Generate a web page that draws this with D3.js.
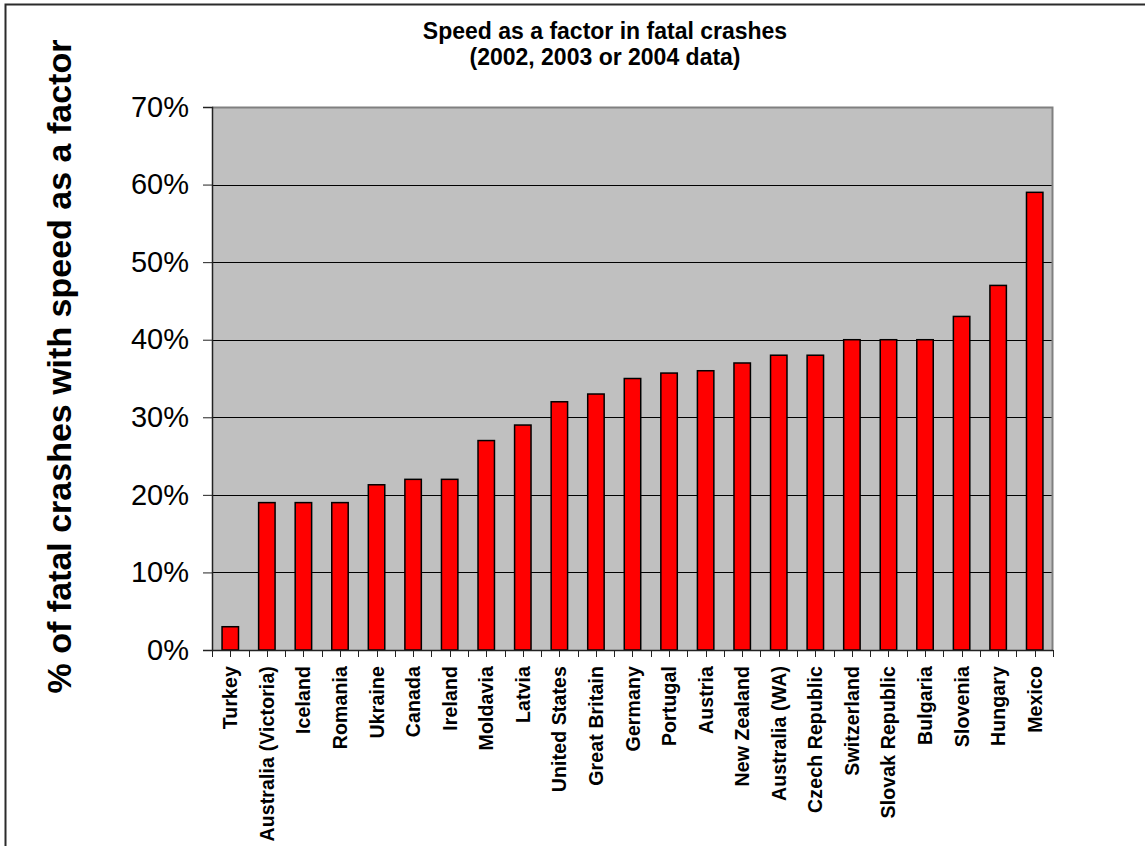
<!DOCTYPE html>
<html>
<head>
<meta charset="utf-8">
<script src="https://cdn.jsdelivr.net/npm/d3@7"></script>
<style>
  html, body { margin: 0; padding: 0; background: #ffffff; }
  svg { display: block; font-family: Arial, "Liberation Sans", sans-serif; }
</style>
</head>
<body>
<svg id="chart" width="1145" height="846"></svg>
<script>
// Countries, in plotted order
const countries = [
  "Turkey", "Australia (Victoria)", "Iceland", "Romania", "Ukraine", "Canada",
  "Ireland", "Moldavia", "Latvia", "United States", "Great Britain", "Germany",
  "Portugal", "Austria", "New Zealand", "Australia (WA)", "Czech Republic",
  "Switzerland", "Slovak Republic", "Bulgaria", "Slovenia", "Hungary", "Mexico"
];

// Share of fatal crashes with speed as a factor (fraction)
const speedShare = [
  0.03, 0.19, 0.19, 0.19, 0.213, 0.22,
  0.22, 0.27, 0.29, 0.32, 0.33, 0.35,
  0.357, 0.36, 0.37, 0.38, 0.38,
  0.40, 0.40, 0.40, 0.43, 0.47, 0.59
];

// Value-axis ticks
const yTicks = [0, 0.1, 0.2, 0.3, 0.4, 0.5, 0.6, 0.7];

const titleLines = ["Speed as a factor in fatal crashes", "(2002, 2003 or 2004 data)"];
const yTitle = "% of fatal crashes with speed as a factor";

const svg = d3.select("#chart");
const plot = { left: 212, right: 1053, top: 107, bottom: 650 };

const x = d3.scaleBand()
  .domain(countries)
  .range([plot.left, plot.right])
  .paddingInner(0.55)
  .paddingOuter(0.275);

const y = d3.scaleLinear()
  .domain([0, 0.7])
  .range([plot.bottom, plot.top]);

// Outer chart frame
svg.append("rect")
  .attr("x", 5.5).attr("y", 4.5)
  .attr("width", 1150).attr("height", 860)
  .attr("fill", "#ffffff")
  .attr("stroke", "#2b2b2b")
  .attr("stroke-width", 2);

// Plot area background
svg.append("rect")
  .attr("x", plot.left).attr("y", plot.top)
  .attr("width", plot.right - plot.left)
  .attr("height", plot.bottom - plot.top)
  .attr("fill", "#c0c0c0");

// Horizontal gridlines
svg.append("g")
  .selectAll("line")
  .data(yTicks.filter(d => d > 0 && d < 0.7))
  .join("line")
  .attr("x1", plot.left).attr("x2", plot.right)
  .attr("y1", d => Math.round(y(d)) + 0.5)
  .attr("y2", d => Math.round(y(d)) + 0.5)
  .attr("stroke", "#000")
  .attr("stroke-width", 1);

// Plot area border (top and right)
svg.append("path")
  .attr("d", `M${plot.left},${plot.top + 0.5}H${plot.right - 0.5}V${plot.bottom}`)
  .attr("fill", "none")
  .attr("stroke", "#808080")
  .attr("stroke-width", 2);

// Bars
svg.append("g")
  .selectAll("rect")
  .data(countries.map((c, i) => ({ c, v: speedShare[i] })))
  .join("rect")
  .attr("x", d => x(d.c))
  .attr("y", d => y(d.v))
  .attr("width", x.bandwidth())
  .attr("height", d => y(0) - y(d.v))
  .attr("fill", "#ff0000")
  .attr("stroke", "#000")
  .attr("stroke-width", 1.5);

// Value axis
const yAxis = d3.axisLeft(y)
  .tickValues(yTicks)
  .tickFormat(d3.format(".0%"))
  .tickSize(9)
  .tickPadding(14);

const yg = svg.append("g")
  .attr("transform", `translate(${plot.left},0)`)
  .call(yAxis);
yg.select(".domain").attr("stroke", "#222").attr("stroke-width", 1.5);
yg.selectAll(".tick line").attr("stroke", "#222");
yg.selectAll(".tick text")
  .attr("font-size", 29)
  .attr("font-family", "Arial, 'Liberation Sans', sans-serif")
  .attr("fill", "#000");

// Category axis: ticks at band edges and band centres
const step = x.step();
const edgeTicks = d3.range(countries.length + 1).map(i => plot.left + i * step);
const midTicks = countries.map(c => x(c) + x.bandwidth() / 2);

const xg = svg.append("g");
xg.append("line")
  .attr("x1", plot.left).attr("x2", plot.right)
  .attr("y1", plot.bottom + 0.5).attr("y2", plot.bottom + 0.5)
  .attr("stroke", "#222").attr("stroke-width", 1.5);
xg.selectAll("line.tick")
  .data(edgeTicks.concat(midTicks))
  .join("line")
  .attr("class", "tick")
  .attr("x1", d => Math.round(d) + 0.5).attr("x2", d => Math.round(d) + 0.5)
  .attr("y1", plot.bottom).attr("y2", plot.bottom + 7)
  .attr("stroke", "#222").attr("stroke-width", 1);

xg.selectAll("text")
  .data(countries)
  .join("text")
  .attr("transform", d => `translate(${x(d) + x.bandwidth() / 2},${plot.bottom + 16}) rotate(-90)`)
  .attr("text-anchor", "end")
  .attr("dominant-baseline", "central")
  .attr("font-size", 19.5)
  .attr("font-weight", "bold")
  .attr("letter-spacing", 0.12)
  .attr("fill", "#000")
  .text(d => d);

// Value axis title
svg.append("text")
  .attr("transform", `translate(59,${(plot.top + plot.bottom) / 2 - 12}) rotate(-90)`)
  .attr("text-anchor", "middle")
  .attr("dominant-baseline", "central")
  .attr("font-size", 34)
  .attr("font-weight", "bold")
  .attr("fill", "#000")
  .text(yTitle);

// Chart title
svg.append("g")
  .selectAll("text")
  .data(titleLines)
  .join("text")
  .attr("x", 605)
  .attr("y", (d, i) => 31 + i * 26)
  .attr("text-anchor", "middle")
  .attr("dominant-baseline", "central")
  .attr("font-size", 23)
  .attr("font-weight", "bold")
  .attr("fill", "#000")
  .text(d => d);
</script>
</body>
</html>
